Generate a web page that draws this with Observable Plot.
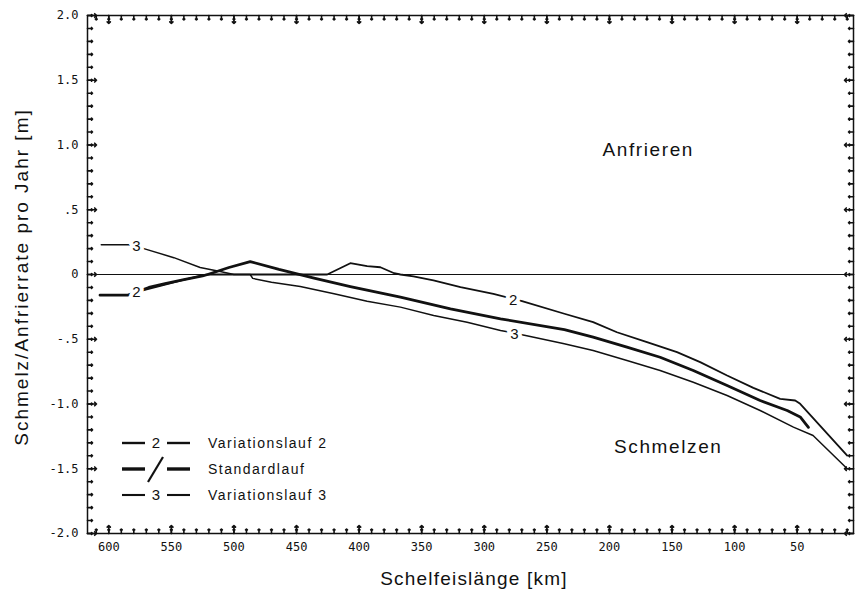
<!DOCTYPE html>
<html><head><meta charset="utf-8">
<script src="https://cdn.jsdelivr.net/npm/d3@7"></script>
<script src="https://cdn.jsdelivr.net/npm/@observablehq/plot@0.6"></script>
<style>
body{margin:0;background:#fff;}
#wrap{position:relative;width:855px;height:595px;}
</style></head><body><div id="wrap"></div>
<script>
// ---- data (Schelfeislänge in km, Schmelz/Anfrierrate in m pro Jahr) ----
const var2Km  = [607, 585, 572, 558, 542, 526, 521, 500, 425.5, 407, 393.6, 383, 372, 367, 356.6, 340.6, 319, 292.7, 269.8, 236, 213, 194, 170, 146, 127.5, 106, 85, 63.6, 51.6, 47.6, 10];
const var2Val = [-0.16, -0.16, -0.12, -0.085, -0.046, -0.008, 0, 0, 0, 0.087, 0.064, 0.056, 0.01, 0, -0.015, -0.046, -0.098, -0.149, -0.206, -0.303, -0.368, -0.446, -0.523, -0.600, -0.677, -0.780, -0.875, -0.960, -0.973, -0.999, -1.398];

const stdKm  = [607, 585, 568, 555, 540, 525, 521, 504, 487, 464, 436, 407, 367, 327, 287, 236, 213, 186, 159.5, 133, 106, 79.6, 58, 47.6, 41];
const stdVal = [-0.16, -0.16, -0.10, -0.07, -0.04, -0.01, 0, 0.054, 0.10, 0.039, -0.028, -0.093, -0.175, -0.265, -0.342, -0.425, -0.484, -0.561, -0.639, -0.741, -0.857, -0.973, -1.05, -1.10, -1.18];

const var3Km  = [606, 584, 572, 548, 527, 511, 500, 487, 485, 470, 447, 420, 393.6, 367, 340.4, 313.7, 287, 267, 237, 213, 186, 159.5, 133, 106, 79.6, 53, 37.3, 10];
const var3Val = [0.23, 0.23, 0.20, 0.13, 0.054, 0.023, 0.0, 0.0, -0.03, -0.06, -0.093, -0.149, -0.206, -0.252, -0.317, -0.368, -0.432, -0.471, -0.533, -0.587, -0.664, -0.741, -0.832, -0.934, -1.05, -1.179, -1.243, -1.50];

const seriesNames = ["Variationslauf 2", "Standardlauf", "Variationslauf 3"];
const seriesMarks = ["2", "/", "3"];

const labelKm   = [578, 578, 277, 276];
const labelVal  = [0.216, -0.139, -0.196, -0.458];
const labelText = ["3", "2", "2", "3"];

const regionText = ["Anfrieren", "Schmelzen"];
const regionKm   = [169, 153];
const regionVal  = [0.96, -1.33];

const xMajorTicks = [600, 550, 500, 450, 400, 350, 300, 250, 200, 150, 100, 50];
const xMinorTicks = d3.range(10, 611, 10);
const yMajorTicks = [2, 1.5, 1, 0.5, 0, -0.5, -1, -1.5, -2];
const yTickLabels = ["2.0", "1.5", "1.0", ".5", "0", "-.5", "-1.0", "-1.5", "-2.0"];
const yMinorTicks = d3.range(-20, 21).map(d => d / 10);

const xTitle = "Schelfeislänge [km]";
const yTitle = "Schmelz/Anfrierrate pro Jahr [m]";

// ---- build tables ----
const toRows = (km, val) => km.map((k, i) => ({km: k, v: val[i]}));
const var2 = toRows(var2Km, var2Val);
const std = toRows(stdKm, stdVal);
const var3 = toRows(var3Km, var3Val);
const lineLabels = labelKm.map((k, i) => ({km: k, v: labelVal[i], t: labelText[i]}));
const regions = regionKm.map((k, i) => ({km: k, v: regionVal[i], t: regionText[i]}));
const widths = [1.8, 2.8, 1.5];

const W = 855, H = 595, mL = 87, mR = 2, mT = 15, mB = 62;
const xDomain = [617, 5], yDomain = [-2, 2];

const ink = "#111";
const sans = "'Liberation Sans', Arial, Helvetica, sans-serif";
const mono = "'DejaVu Sans Mono', 'Liberation Mono', monospace";
const yFmt = d => yTickLabels[yMajorTicks.indexOf(d)] ?? "";

// tick tables: value + length in pixels, drawn inward as Plot vectors
const xTickRows = [
  ...xMinorTicks.map(v => ({v, len: 4.5})),
  ...xMajorTicks.map(v => ({v, len: 8}))
];
const yTickRows = [
  ...yMinorTicks.map(v => ({v, len: 5})),
  ...yMajorTicks.map(v => ({v, len: 9}))
];

const chart = Plot.plot({
  width: W, height: H,
  marginLeft: mL, marginRight: mR, marginTop: mT, marginBottom: mB,
  style: {fontFamily: sans, background: "white", color: ink},
  x: {domain: xDomain, label: null},
  y: {domain: yDomain, label: null},
  marks: [
    Plot.ruleY([0], {stroke: ink, strokeWidth: 1}),
    Plot.line(var3, {x: "km", y: "v", stroke: ink, strokeWidth: widths[2]}),
    Plot.line(var2, {x: "km", y: "v", stroke: ink, strokeWidth: widths[0]}),
    Plot.line(std, {x: "km", y: "v", stroke: ink, strokeWidth: widths[1]}),
    Plot.text(lineLabels, {x: "km", y: "v", text: "t", fontSize: 15, fill: ink, stroke: "white", strokeWidth: 8, fontFamily: sans}),
    Plot.text(regions, {x: "km", y: "v", text: "t", fontSize: 19, fill: ink, fontFamily: sans, className: "region"}),
    Plot.frame({stroke: ink, strokeWidth: 1.5}),
    // inward ticks: vertical vectors from bottom/top frame edges, horizontal from left/right
    Plot.vector(xTickRows, {x: "v", frameAnchor: "bottom", length: "len", rotate: 0, anchor: "start", stroke: ink, strokeWidth: 1.6}),
    Plot.vector(xTickRows, {x: "v", frameAnchor: "top", length: "len", rotate: 180, anchor: "start", stroke: ink, strokeWidth: 1.6}),
    Plot.vector(yTickRows, {y: "v", frameAnchor: "left", length: "len", rotate: 90, anchor: "start", stroke: ink, strokeWidth: 1.6}),
    Plot.vector(yTickRows, {y: "v", frameAnchor: "right", length: "len", rotate: -90, anchor: "start", stroke: ink, strokeWidth: 1.6}),
    // tick labels
    Plot.axisX(xMajorTicks, {anchor: "bottom", tickSize: 0, tickPadding: 9, tickFormat: d => String(d), label: null, fontSize: 12, fontFamily: mono, fill: ink}),
    Plot.axisY(yMajorTicks, {anchor: "left", tickSize: 0, tickPadding: 9, tickFormat: yFmt, label: null, fontSize: 12, fontFamily: mono, fill: ink})
  ],
  length: {type: "identity"}
});
document.getElementById("wrap").appendChild(chart);

const svg = d3.select(chart);
svg.selectAll(".region text, g.region text").attr("letter-spacing", 1.6);

// axis titles
svg.append("text")
  .attr("transform", "translate(21,277) rotate(-90)")
  .attr("text-anchor", "middle").attr("dy", "0.35em")
  .attr("font-family", sans).attr("font-size", 19).attr("letter-spacing", 2)
  .attr("fill", ink).text(yTitle);
svg.append("text")
  .attr("x", 474).attr("y", 578)
  .attr("text-anchor", "middle").attr("dy", "0.35em")
  .attr("font-family", sans).attr("font-size", 19).attr("letter-spacing", 1.2)
  .attr("fill", ink).text(xTitle);

// legend (inside the frame, lower left)
const legend = svg.append("g").attr("class", "legend");
const rowY = [443, 469, 495];
seriesNames.forEach((name, i) => {
  const g = legend.append("g").attr("transform", `translate(0,${rowY[i]})`);
  g.append("line").attr("x1", 122).attr("x2", 145).attr("y1", 0).attr("y2", 0).attr("stroke", ink).attr("stroke-width", widths[i] + 0.6);
  g.append("line").attr("x1", 167).attr("x2", 190).attr("y1", 0).attr("y2", 0).attr("stroke", ink).attr("stroke-width", widths[i] + 0.6);
  if (seriesMarks[i] === "/") {
    g.append("line").attr("x1", 163).attr("y1", -12).attr("x2", 148).attr("y2", 13).attr("stroke", ink).attr("stroke-width", 2.2);
  } else {
    g.append("text").attr("x", 156).attr("y", 0).attr("dy", "0.35em").attr("text-anchor", "middle")
      .attr("font-family", sans).attr("font-size", 15).attr("fill", ink).text(seriesMarks[i]);
  }
  g.append("text").attr("x", 208).attr("y", 0).attr("dy", "0.35em").attr("text-anchor", "start")
    .attr("font-family", sans).attr("font-size", 14).attr("letter-spacing", 1.5)
    .attr("fill", ink).text(name);
});
</script></body></html>
